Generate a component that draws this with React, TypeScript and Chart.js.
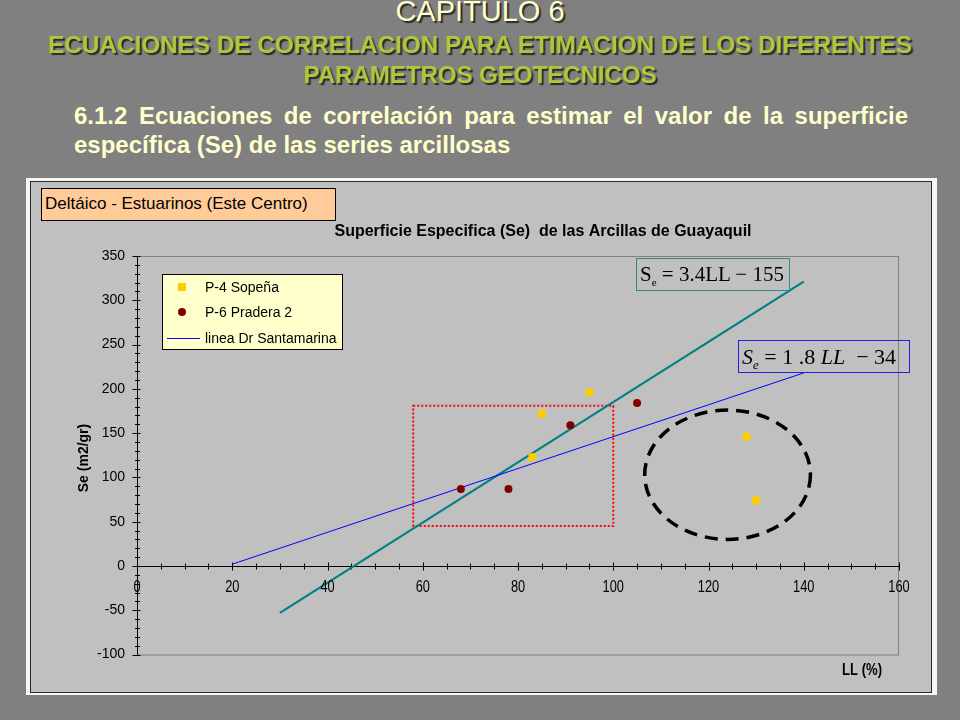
import React, { useEffect, useRef } from "react";
import { Chart, registerables } from "chart.js";

Chart.register(...registerables);

// ---------- data ----------
const P4_LABEL = "P-4 Sopeña";
const P4_LL = [85, 95, 83, 128, 130];
const P4_SE = [172, 196, 123, 146, 74];

const P6_LABEL = "P-6 Pradera 2";
const P6_LL = [68, 78, 91, 105];
const P6_SE = [87, 87, 159, 184];

const SANTA_LABEL = "linea Dr Santamarina";
const SANTA_LL = [20, 140];
const SANTA_SE = [2, 218];

const FIT_LABEL = "Se = 3.4LL - 155";
const FIT_LL = [30, 140];
const FIT_SE = [-53, 321];

const X_MIN = 0, X_MAX = 160, X_STEP = 20, X_MINOR = 5;
const Y_MIN = -100, Y_MAX = 350, Y_STEP = 50, Y_MINOR = 10;

// highlight shapes (data coordinates)
const RECT_LL = [58, 100];
const RECT_SE = [45, 181];
const ELLIPSE_CENTER = [124, 103];
const ELLIPSE_RADIUS = [17.4, 73];

const CHART_TITLE = "Superficie Especifica (Se)  de las Arcillas de Guayaquil";
const Y_TITLE = "Se (m2/gr)";
const X_TITLE = "LL (%)";

const pts = (xs: number[], ys: number[]) => xs.map((x, i) => ({ x, y: ys[i] }));

const SANS = '"Liberation Sans", Arial, sans-serif';

const overlayPlugin = {
  id: "excelOverlay",
  beforeDatasetsDraw(chart: any) {
    const { ctx, chartArea: a, scales } = chart;
    const x = scales.x, y = scales.y;
    ctx.save();
    // plot frame
    ctx.strokeStyle = "#808080";
    ctx.lineWidth = 1;
    ctx.strokeRect(a.left + 0.5, a.top + 0.5, a.right - a.left - 1, a.bottom - a.top);
    // axes
    const x0 = Math.round(x.getPixelForValue(0)) + 0.5;
    const y0 = Math.round(y.getPixelForValue(0)) + 0.5;
    ctx.strokeStyle = "#000";
    ctx.beginPath();
    ctx.moveTo(x0, y.getPixelForValue(Y_MAX));
    ctx.lineTo(x0, y.getPixelForValue(Y_MIN));
    ctx.moveTo(x.getPixelForValue(X_MIN), y0);
    ctx.lineTo(x.getPixelForValue(X_MAX), y0);
    for (let v = Y_MIN; v <= Y_MAX; v += Y_MINOR) {
      const py = Math.round(y.getPixelForValue(v)) + 0.5;
      const major = v % Y_STEP === 0;
      ctx.moveTo(x0 - (major ? 5 : 2.5), py);
      ctx.lineTo(x0 + (major ? 3 : 2.5), py);
    }
    for (let v = X_MIN; v <= X_MAX; v += X_MINOR) {
      const px = Math.round(x.getPixelForValue(v)) + 0.5;
      const major = v % X_STEP === 0;
      ctx.moveTo(px, y0 - (major ? 4 : 3));
      ctx.lineTo(px, y0 + (major ? 4 : 3));
    }
    ctx.stroke();

    // red dotted rectangle
    ctx.strokeStyle = "#FF0000";
    ctx.lineWidth = 2;
    ctx.setLineDash([2, 2]);
    const rx1 = x.getPixelForValue(RECT_LL[0]), rx2 = x.getPixelForValue(RECT_LL[1]);
    const ry1 = y.getPixelForValue(RECT_SE[1]), ry2 = y.getPixelForValue(RECT_SE[0]);
    ctx.strokeRect(rx1, ry1, rx2 - rx1, ry2 - ry1);

    // dashed ellipse
    ctx.strokeStyle = "#000";
    ctx.lineWidth = 3.5;
    ctx.setLineDash([13, 8]);
    const cx = x.getPixelForValue(ELLIPSE_CENTER[0]);
    const cy = y.getPixelForValue(ELLIPSE_CENTER[1]);
    const erx = x.getPixelForValue(ELLIPSE_CENTER[0] + ELLIPSE_RADIUS[0]) - cx;
    const ery = cy - y.getPixelForValue(ELLIPSE_CENTER[1] + ELLIPSE_RADIUS[1]);
    ctx.beginPath();
    ctx.ellipse(cx, cy, erx, ery, 0, 0, Math.PI * 2);
    ctx.stroke();
    ctx.restore();
  },
  afterDraw(chart: any) {
    const { ctx, scales } = chart;
    const x = scales.x, y = scales.y;
    ctx.save();
    ctx.fillStyle = "#000";
    // x tick labels (condensed, below the zero line)
    const y0 = y.getPixelForValue(0);
    ctx.font = `16px ${SANS}`;
    ctx.textAlign = "center";
    ctx.textBaseline = "middle";
    for (const t of x.ticks) {
      const px = x.getPixelForValue(t.value);
      ctx.save();
      ctx.translate(px, y0 + 22);
      ctx.scale(0.8, 1);
      ctx.fillText(String(t.label), 0, 0);
      ctx.restore();
    }
    // x title
    ctx.save();
    ctx.translate(831, 489);
    ctx.scale(0.82, 1);
    ctx.font = `bold 16px ${SANS}`;
    ctx.fillText(X_TITLE, 0, 0);
    ctx.restore();
    // chart title
    ctx.font = `bold 16px ${SANS}`;
    ctx.fillText(CHART_TITLE, 512, 50);
    // y title
    ctx.save();
    ctx.translate(53, 276);
    ctx.rotate(-Math.PI / 2);
    ctx.font = `bold 14px ${SANS}`;
    ctx.fillText(Y_TITLE, 0, 0);
    ctx.restore();

    // legend
    const lx = 131, ly = 92, lw = 180, lh = 75;
    ctx.fillStyle = "#FFFFCC";
    ctx.fillRect(lx, ly, lw, lh);
    ctx.strokeStyle = "#000";
    ctx.lineWidth = 1;
    ctx.strokeRect(lx + 0.5, ly + 0.5, lw, lh);
    const rows = [105, 130, 156];
    const ds = chart.data.datasets;
    ctx.font = `14px ${SANS}`;
    ctx.textAlign = "left";
    ctx.textBaseline = "middle";
    for (let i = 0; i < 3; i++) {
      const d = ds[i];
      const ry = rows[i];
      if (i === 2) {
        ctx.strokeStyle = d.borderColor;
        ctx.lineWidth = d.borderWidth;
        ctx.beginPath();
        ctx.moveTo(136, ry + 0.5);
        ctx.lineTo(169, ry + 0.5);
        ctx.stroke();
      } else {
        ctx.fillStyle = d.backgroundColor;
        ctx.beginPath();
        if (d.pointStyle === "rect") {
          ctx.rect(151 - 4, ry - 4, 8, 8);
        } else {
          ctx.arc(151, ry, d.pointRadius, 0, Math.PI * 2);
        }
        ctx.fill();
      }
      ctx.fillStyle = "#000";
      ctx.fillText(d.label, 174, ry + 1);
    }
    ctx.restore();
  },
};

export default function App() {
  const ref = useRef<HTMLCanvasElement>(null);

  useEffect(() => {
    if (!ref.current) return;
    const chart = new Chart(ref.current, {
      type: "scatter",
      data: {
        datasets: [
          {
            label: P4_LABEL,
            data: pts(P4_LL, P4_SE),
            pointStyle: "rect",
            pointRadius: 5.5,
            backgroundColor: "#FFCC00",
            borderColor: "#FFCC00",
            borderWidth: 0,
            showLine: false,
          },
          {
            label: P6_LABEL,
            data: pts(P6_LL, P6_SE),
            pointStyle: "circle",
            pointRadius: 4,
            backgroundColor: "#800000",
            borderColor: "#800000",
            borderWidth: 0,
            showLine: false,
          },
          {
            label: SANTA_LABEL,
            data: pts(SANTA_LL, SANTA_SE),
            showLine: true,
            borderColor: "#0000FF",
            backgroundColor: "#0000FF",
            borderWidth: 1,
            pointRadius: 0,
          },
          {
            label: FIT_LABEL,
            data: pts(FIT_LL, FIT_SE),
            showLine: true,
            borderColor: "#008080",
            backgroundColor: "#008080",
            borderWidth: 2.2,
            pointRadius: 0,
          },
        ] as any,
      },
      options: {
        responsive: false,
        animation: false,
        events: [],
        devicePixelRatio: 1,
        layout: { padding: { left: 0, top: 74, right: 32, bottom: 37.5 } },
        plugins: {
          legend: { display: false },
          title: { display: false },
          tooltip: { enabled: false },
        },
        scales: {
          x: {
            type: "linear",
            position: { y: 0 } as any,
            min: X_MIN,
            max: X_MAX,
            grid: { display: false, drawTicks: false },
            border: { display: false },
            ticks: {
              stepSize: X_STEP,
              display: false,
              maxRotation: 0,
            },
            afterFit(s: any) {
              s.paddingLeft = 0;
              s.paddingRight = 0;
            },
          },
          y: {
            type: "linear",
            position: "left",
            min: Y_MIN,
            max: Y_MAX,
            grid: { display: false, drawTicks: false },
            border: { display: false },
            ticks: {
              stepSize: Y_STEP,
              color: "#000",
              padding: 12,
              font: { family: SANS, size: 14 },
            },
            afterFit(s: any) {
              s.width = 106;
              s.paddingTop = 0;
              s.paddingBottom = 0;
            },
          },
        },
      } as any,
      plugins: [overlayPlugin],
    });
    return () => chart.destroy();
  }, []);

  const shadow = "2px 2px 1px #2a2a2a";

  return (
    <div
      style={{
        position: "fixed",
        left: 0,
        top: 0,
        width: 960,
        height: 720,
        background: "#808080",
        overflow: "hidden",
        fontFamily: SANS,
      }}
    >
      <div
        style={{
          position: "absolute",
          left: 0,
          width: 960,
          top: -3.5,
          textAlign: "center",
          fontSize: 29,
          lineHeight: "29px",
          color: "#FFFFCC",
          textShadow: shadow,
          whiteSpace: "nowrap",
        }}
      >
        CAPITULO 6
      </div>
      <div
        style={{
          position: "absolute",
          left: 0,
          width: 960,
          top: 33,
          textAlign: "center",
          fontSize: 24.3,
          lineHeight: "24.3px",
          fontWeight: "bold",
          color: "#ADC83E",
          textShadow: shadow,
          whiteSpace: "nowrap",
        }}
      >
        ECUACIONES DE CORRELACION PARA ETIMACION DE LOS DIFERENTES
      </div>
      <div
        style={{
          position: "absolute",
          left: 0,
          width: 960,
          top: 62.5,
          textAlign: "center",
          fontSize: 24,
          lineHeight: "24px",
          fontWeight: "bold",
          color: "#ADC83E",
          textShadow: shadow,
          whiteSpace: "nowrap",
        }}
      >
        PARAMETROS GEOTECNICOS
      </div>
      <div
        style={{
          position: "absolute",
          left: 74,
          width: 834,
          top: 101,
          fontSize: 24,
          lineHeight: "29px",
          fontWeight: "bold",
          color: "#FFFFCC",
          textAlign: "justify",
          textAlignLast: "justify" as any,
          whiteSpace: "nowrap",
        }}
      >
        6.1.2 Ecuaciones de correlación para estimar el valor de la superficie
      </div>
      <div
        style={{
          position: "absolute",
          left: 74,
          top: 130,
          fontSize: 24,
          lineHeight: "29px",
          fontWeight: "bold",
          color: "#FFFFCC",
          whiteSpace: "nowrap",
        }}
      >
        específica (Se) de las series arcillosas
      </div>

      <div
        style={{
          position: "absolute",
          left: 26,
          top: 178,
          width: 911,
          height: 517,
          background: "#f6f6f6",
        }}
      />
      <div
        style={{
          position: "absolute",
          left: 30,
          top: 181,
          width: 900,
          height: 510,
          border: "1px solid #2a2a2a",
          background: "#C0C0C0",
        }}
      >
        <canvas ref={ref} width={900} height={510} style={{ display: "block", width: 900, height: 510 }} />
      </div>

      <div
        style={{
          position: "absolute",
          left: 41,
          top: 188,
          width: 290,
          height: 31,
          border: "1px solid #000",
          background: "#FFCC99",
          fontSize: 17,
          lineHeight: "30px",
          paddingLeft: 3,
          boxSizing: "content-box",
          whiteSpace: "nowrap",
          color: "#000",
        }}
      >
        Deltáico - Estuarinos (Este Centro)
      </div>

      <div
        style={{
          position: "absolute",
          left: 636,
          top: 258,
          width: 149,
          height: 31,
          border: "1.5px solid #2E8A86",
          fontFamily: '"Liberation Serif", "Times New Roman", serif',
          fontSize: 21,
          lineHeight: "31px",
          paddingLeft: 3,
          color: "#000",
          whiteSpace: "nowrap",
        }}
      >
        S<span style={{ fontSize: 11, position: "relative", top: 5 }}>e</span> = 3.4LL − 155
      </div>

      <div
        style={{
          position: "absolute",
          left: 738,
          top: 340,
          width: 167,
          height: 31,
          border: "1.5px solid #2020E0",
          fontFamily: '"Liberation Serif", "Times New Roman", serif',
          fontSize: 22,
          lineHeight: "31px",
          paddingLeft: 3,
          color: "#000",
          whiteSpace: "pre",
        }}
      >
        <i>S</i>
        <i style={{ fontSize: 13, position: "relative", top: 5 }}>e</i>
        {" = 1 .8 "}
        <i>LL</i>
        {"  − 34"}
      </div>
    </div>
  );
}
